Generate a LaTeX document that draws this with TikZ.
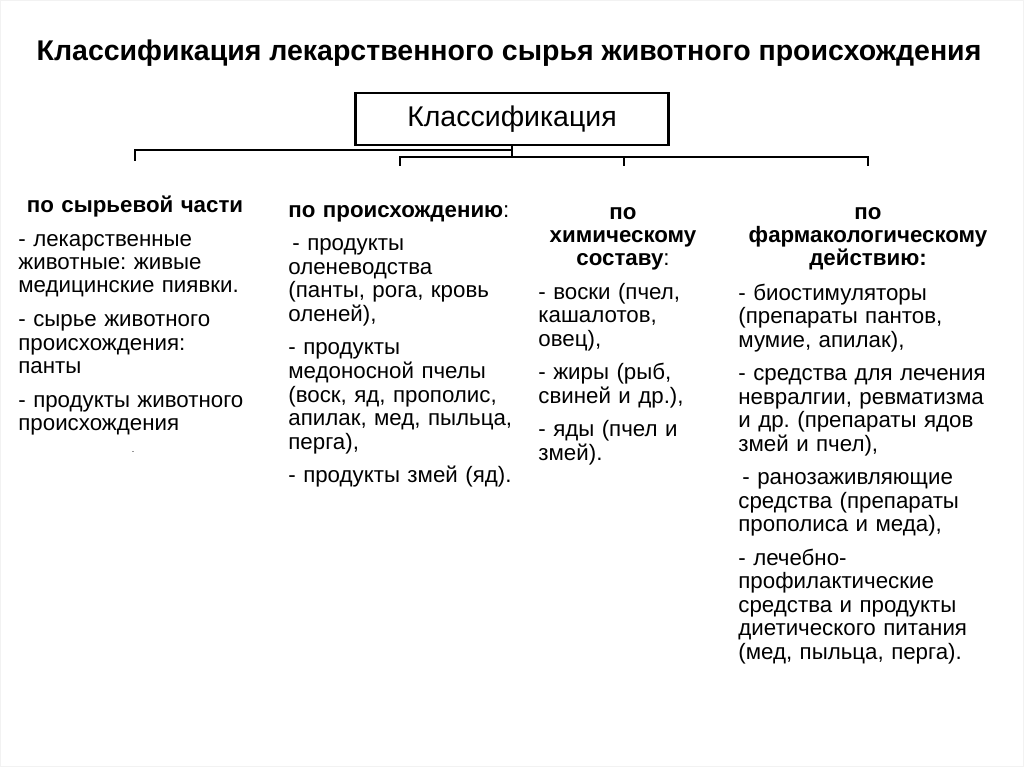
\documentclass[tikz,border=0pt]{standalone}
\usepackage{fontspec}
\setmainfont{Liberation Sans}
\usepackage{tikz}
\frenchspacing

\begin{document}
\lineskiplimit=-100pt
\begin{tikzpicture}[x=1pt,y=-1pt,line width=2.8pt,
    head/.style={font=\fontsize{22.3}{23.5}\selectfont\bfseries, align=center, text width=300pt, inner sep=0pt, anchor=base},
    body/.style={font=\fontsize{22.3}{23.5}\selectfont, align=left, text width=290pt, inner sep=0pt, anchor=base west},
  ]
    \useasboundingbox (0,0) rectangle (1024,767);
    \draw[black!5, line width=1pt] (0.5,0.5) rectangle (1023.5,766.5);

    \node (title)  at (509,61)  [anchor=base, font=\fontsize{28.5}{30}\selectfont\bfseries]
      {Классификация лекарственного сырья животного происхождения};
    \node (cls)    at (512,119) [draw, minimum width=313pt, minimum height=52pt, font=\fontsize{28.5}{30}\selectfont]
      {Классификация};

    % column heads
    \node (raw)    at (135,213) [head] {по сырьевой части};
    \node (origin) at (287,218) [head, anchor=base west, align=left] {по происхождению{\mdseries:}};
    \node (chem)   at (623,219) [head] {по\\химическому\\составу{\mdseries:}};
    \node (pharm)  at (868,219) [head] {по\\фармакологическому\\действию:};

    % column texts
    \node (rawtx)  at (17,246)  [body] {- лекарственные\\животные: живые\\медицинские пиявки.\\[10pt]
      - сырье животного\\происхождения:\\панты\\[10pt]
      - продукты животного\\происхождения};
    \node (dot)    at (133,452) [font=\fontsize{9}{9}\selectfont, inner sep=0pt] {.};
    \node (origtx) at (287,251) [body] {\hspace{4pt}- продукты\\оленеводства\\(панты, рога, кровь\\оленей),\\[10pt]
      - продукты\\медоносной пчелы\\(воск, яд, прополис,\\апилак, мед, пыльца,\\перга),\\[10pt]
      - продукты змей (яд).};
    \node (chemtx) at (537,299) [body] {- воски (пчел,\\кашалотов,\\овец),\\[10pt]
      - жиры (рыб,\\свиней и др.),\\[10pt]
      - яды (пчел и\\змей).};
    \node (phartx) at (737,300) [body] {- биостимуляторы\\(препараты пантов,\\мумие, апилак),\\[10pt]
      - средства для лечения\\невралгии, ревматизма\\и др. (препараты ядов\\змей и пчел),\\[10pt]
      \hspace{4pt}- ранозаживляющие\\средства (препараты\\прополиса и меда),\\[10pt]
      - лечебно-\\профилактические\\средства и продукты\\диетического питания\\(мед, пыльца, перга).};

    % brackets
    \coordinate (j1) at (512,150);
    \coordinate (j2) at (512,157);
    \coordinate (t1) at (135,161);
    \coordinate (t2) at (400,166);
    \coordinate (t3) at (624,166);
    \coordinate (t4) at (868,166);
    \draw (node cs:name=cls,anchor=south) -- (j2);
    \draw (j1) -| (t1);
    \draw (t2) |- (j2) -| (t4);
    \draw (t3) -- (t3 |- j2);
\end{tikzpicture}
\end{document}
